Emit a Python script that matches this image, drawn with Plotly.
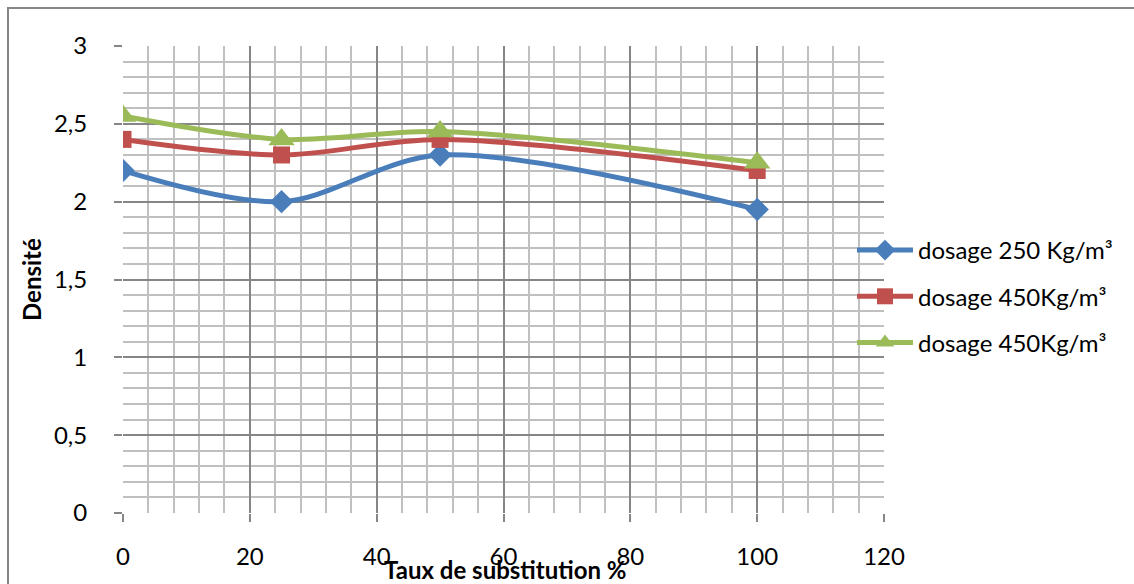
import plotly.graph_objects as go

# Taux de substitution (%)
taux = [0, 25, 50, 100]

# Densité par dosage
dosage_250 = [2.2, 2.0, 2.3, 1.95]
dosage_450_a = [2.4, 2.3, 2.4, 2.2]
dosage_450_b = [2.55, 2.4, 2.45, 2.25]

noms = ["dosage 250 Kg/m³", "dosage 450Kg/m³", "dosage 450Kg/m³"]
couleurs = ["#4A7EBB", "#C0504D", "#9BBB59"]
symboles = ["diamond", "square", "triangle-up"]
tailles = [18, 17, 23]

FONT = "Lato, Carlito, 'Liberation Sans', sans-serif"
FS = 24

fig = go.Figure()
for i, serie in enumerate([dosage_250, dosage_450_a, dosage_450_b]):
    fig.add_trace(go.Scatter(
        x=taux, y=serie, name=noms[i], mode="lines+markers",
        line=dict(color=couleurs[i], width=5, shape="spline", smoothing=0.9),
        marker=dict(symbol=symboles[i], size=tailles[i], color=couleurs[i]),
        legendgroup=f"g{i}",
    ))

W, H = 1134, 584
L, R, T, B = 123, 250, 46, 71
pw, ph = W - L - R, H - T - B


def px_x(p):
    return (p - L) / pw


def px_y(p):
    return 1 - (p - T) / ph


axis_common = dict(
    showline=False, zeroline=False,
    ticks="outside", ticklen=8, tickcolor="#868686", tickwidth=2,
    gridcolor="#868686", gridwidth=2,
    tickfont=dict(family=FONT, size=FS, color="#000000"),
)

fig.update_xaxes(
    range=[0, 120], tick0=0, dtick=20, **axis_common,
    minor=dict(dtick=4, showgrid=True, gridcolor="#C0C0C0", gridwidth=2, ticks=""),
    ticklabelstandoff=14,
)
fig.update_yaxes(
    range=[0, 3], tick0=0, dtick=0.5, **axis_common,
    minor=dict(dtick=0.1, showgrid=True, gridcolor="#C0C0C0", gridwidth=2, ticks=""),
    ticklabelstandoff=22,
)

fig.update_layout(
    width=W, height=H,
    margin=dict(l=L, r=R, t=T, b=B),
    paper_bgcolor="white", plot_bgcolor="white",
    separators=", ",
    showlegend=True,
    legend=dict(
        x=px_x(852), y=px_y(228), xanchor="left", yanchor="top",
        font=dict(family=FONT, size=FS, color="#000000"),
        bgcolor="rgba(0,0,0,0)", tracegroupgap=12, itemwidth=56,
    ),
    shapes=[dict(
        type="rect", xref="paper", yref="paper",
        x0=px_x(8), x1=px_x(1150), y0=px_y(8), y1=px_y(600),
        line=dict(color="#868686", width=2), layer="below",
    )],
    annotations=[
        dict(text="<b>Taux de substitution %</b>", xref="paper", yref="paper",
             x=px_x(505), y=px_y(569), xanchor="center", yanchor="middle",
             showarrow=False, font=dict(family=FONT, size=FS, color="#000000")),
        dict(text="<b>Densité</b>", xref="paper", yref="paper",
             x=px_x(31), y=px_y(280), xanchor="center", yanchor="middle",
             showarrow=False, textangle=-90,
             font=dict(family=FONT, size=FS, color="#000000")),
    ],
)

fig.write_html("out.html")
